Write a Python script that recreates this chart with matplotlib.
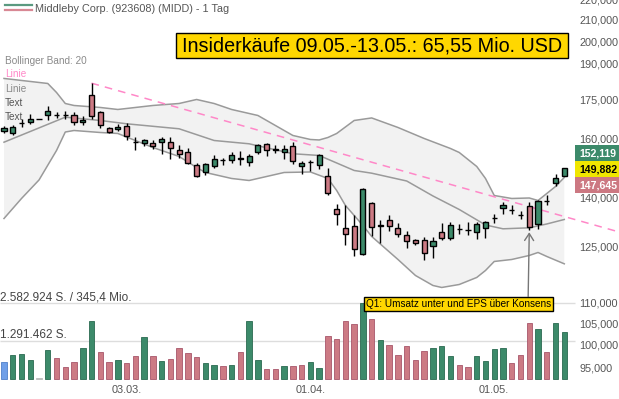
import matplotlib
matplotlib.use("Agg")
import matplotlib.pyplot as plt
from matplotlib.patches import Rectangle
import numpy as np

plt.rcParams['font.family'] = ['Liberation Sans', 'DejaVu Sans']

# daily candles Middleby (MIDD), 11.02. - 13.05., USD
opens = [163.17, 162.68, 166.20, 166.56, 167.86, 169.40, 169.50, 169.30, 169.13, 166.56,
         177.31, 170.40, 164.29, 163.92, 165.20, 159.20, 158.83, 158.65, 159.01, 159.01,
         156.39, 155.68, 151.12, 148.59, 150.64, 152.95, 152.85, 153.40, 152.02, 155.54,
         158.54, 156.50, 155.43, 157.82, 150.78, 152.10, 151.12, 147.14, 136.67, 130.87,
         131.48, 123.28, 138.56, 131.50, 133.29, 130.87, 128.81, 127.14, 127.34, 125.60,
         129.48, 127.81, 130.60, 130.30, 129.57, 130.81, 133.70, 136.98, 136.40, 134.90,
         137.40, 132.09, 139.10, 144.91, 147.24]
highs = [165.30, 165.31, 167.59, 169.79, 167.86, 172.64, 170.29, 170.68, 170.40, 168.85,
         182.07, 170.80, 164.67, 165.95, 166.18, 160.95, 160.36, 159.74, 160.95, 160.95,
         157.93, 157.10, 151.81, 151.81, 154.37, 153.56, 155.43, 155.79, 154.72, 158.29,
         158.76, 157.93, 157.93, 159.01, 152.26, 152.85, 154.72, 150.09, 138.24, 137.92,
         134.81, 143.26, 138.88, 133.08, 134.60, 132.38, 129.86, 127.43, 128.22, 128.10,
         132.38, 132.57, 132.09, 132.57, 132.57, 132.99, 135.12, 138.75, 137.92, 135.93,
         138.75, 139.29, 140.89, 148.05, 150.10]
lows = [162.42, 161.58, 164.56, 165.69, 167.86, 167.48, 168.09, 167.86, 165.31, 165.31,
        167.86, 164.44, 162.57, 163.17, 159.74, 156.39, 157.57, 156.50, 154.98, 153.21,
        153.42, 151.46, 146.81, 147.48, 150.09, 150.88, 151.81, 150.88, 150.64, 154.72,
        154.12, 155.33, 153.21, 151.46, 148.09, 148.93, 149.75, 141.11, 131.72, 125.84,
        122.58, 123.06, 128.31, 126.35, 129.86, 128.22, 125.03, 125.69, 121.51, 122.22,
        127.14, 127.14, 129.10, 128.81, 127.64, 127.78, 132.26, 135.12, 135.12, 133.59,
        130.07, 130.57, 137.71, 143.95, 147.14]
closes = [164.29, 164.56, 166.30, 167.86, 167.86, 170.95, 169.40, 169.25, 166.56, 167.48,
          169.01, 165.31, 162.80, 164.82, 161.47, 159.10, 159.74, 157.82, 160.36, 157.10,
          154.98, 151.81, 147.38, 151.23, 152.96, 152.85, 154.37, 153.30, 154.02, 157.93,
          156.39, 156.30, 156.50, 152.37, 151.57, 152.20, 154.37, 141.73, 135.12, 129.10,
          124.74, 143.06, 131.12, 131.60, 131.48, 129.10, 127.05, 126.47, 123.63, 126.85,
          127.81, 131.78, 130.50, 130.20, 132.09, 132.69, 133.80, 138.02, 136.30, 134.80,
          131.06, 139.07, 139.00, 146.57, 149.88]
volumes = [588000, 815700, 849700, 645700, 20000, 985600, 723900, 407800, 577800, 1063800,
           1961000, 917600, 577800, 645700, 543800, 781700, 1427400, 781700, 611700, 679700,
           1053600, 873400, 747700, 533600, 475800, 441800, 465600, 927800, 1961000, 635500,
           339900, 329700, 441800, 441800, 475800, 588000, 384000, 1471600, 1349200, 1971200,
           1869200, 2582924, 2028900, 1315300, 1165700, 815700, 1131700, 645700, 951600, 1043400,
           1111300, 791900, 475800, 407800, 771500, 611700, 1019600, 1053600, 533600, 825900,
           1893000, 1699300, 917600, 1903200, 1607500]

date_ticks = [14, 35, 56]
date_labels = ['03.03.', '01.04.', '01.05.']
price_ticks = [220, 210, 200, 190, 175, 160, 140, 125, 110, 105, 100, 95]

# Bollinger band (20) at selected days
bb_up_x = [0, 5, 6, 7, 8, 11, 13, 17, 20, 22, 24, 26, 27, 29, 32, 33, 35, 36, 37, 38,
           40, 42, 45, 48, 51, 52, 54, 55, 56, 58, 60, 61, 62, 63, 64]
bb_up = [184.05, 181.95, 178.24, 173.82, 173.03, 172.25, 171.46, 173.03, 173.82, 175.42,
         173.82, 171.46, 170.68, 169.13, 163.43, 161.58, 160.11, 159.93, 160.84, 162.32,
         167.21, 168.18, 164.56, 160.47, 156.85, 155.43, 150.54, 146.47, 140.89, 139.93,
         140.09, 139.29, 141.53, 143.82, 146.81]
bb_mid_x = [0, 3, 7, 11, 14, 20, 24, 28, 33, 36, 40, 42, 46, 49, 52, 55, 57, 60, 62, 64]
bb_mid = [159.12, 163.06, 168.47, 167.21, 165.95, 164.07, 159.74, 158.54, 154.98, 154.37,
          149.17, 148.25, 145.63, 140.73, 136.46, 131.72, 130.57, 130.87, 132.02, 133.38]
bb_low_x = [0, 2, 4, 6, 7, 8, 11, 13, 15, 17, 20, 22, 23, 26, 28, 32, 35, 37, 38, 39,
            41, 42, 45, 47, 49, 50, 52, 54, 55, 56, 58, 60, 61, 62, 64]
bb_low = [133.68, 139.93, 145.97, 156.14, 162.86, 163.43, 162.68, 162.32, 159.74, 157.21,
          154.02, 150.20, 148.49, 146.47, 145.80, 148.49, 148.66, 146.47, 142.51, 137.71,
          131.57, 128.31, 121.74, 117.37, 114.72, 114.20, 114.98, 116.84, 118.72, 121.19,
          121.74, 122.86, 123.70, 122.58, 120.54]

# downtrend line from the high of 21.02.
trend_x = [10, 70.3]
trend_y = [182.07, 129.6]

# price boxes on the right
box_values = [152.119, 149.882, 147.645]
box_colors = ['#3c8a6a', '#f0e600', '#cc7882']
box_text = ['white', 'black', 'white']

vol_max = 2582924
vol_turnover = '345,4 Mio.'

green = '#3c8a6a'
red = '#cc7a84'

W, H = 619, 399


def fx(px):
    return px / W


def fy(py):
    return 1 - py / H


def de(v):
    return f"{v:.3f}".replace('.', ',')


def thousands(v):
    return f"{v:,}".replace(',', '.')


x = np.arange(len(closes))
xlim = (-0.457, 70.25)

fig = plt.figure(figsize=(6.19, 3.99), dpi=100)

# volume panel (same frame, linear scale)
axv = fig.add_axes([0, 0, 1, 1])
axv.set_xlim(*xlim)
axv.set_ylim(-20 / 76 * vol_max, 379 / 76 * vol_max)
axv.axis('off')
axv.hlines([vol_max, vol_max / 2], xlim[0], 65.2, color='#dddddd', lw=1, zorder=0)

vcol, vedge = [], []
for i in range(len(closes)):
    if i == 0:
        vcol.append('#6f9fe8'); vedge.append('#5080c8')
    elif closes[i] == closes[i - 1]:
        vcol.append('#bbbbbb'); vedge.append('#bbbbbb')
    elif closes[i] > closes[i - 1]:
        vcol.append(green); vedge.append('#2a6a50')
    else:
        vcol.append(red); vedge.append('#a8566a')
axv.bar(x, volumes, width=0.62, color=vcol, edgecolor=vedge, linewidth=0.6, zorder=2)

axv.text(fx(0), fy(297), thousands(vol_max) + ' S. / ' + vol_turnover,
         transform=axv.transAxes, fontsize=8.5, color='#444444', va='center', ha='left')
axv.text(fx(0), fy(334.5), thousands(vol_max // 2) + ' S.',
         transform=axv.transAxes, fontsize=8.5, color='#444444', va='center', ha='left')

# price panel (log scale)
ax = fig.add_axes([0, 0, 1, 1])
ax.set_yscale('log')
ax.set_xlim(*xlim)
ax.set_ylim(88.53, 220.15)
ax.axis('off')

ax.fill(np.r_[bb_up_x, bb_low_x[::-1]], np.r_[bb_up, bb_low[::-1]],
        color='#f2f2f2', lw=0, zorder=1)
for bx, by in [(bb_up_x, bb_up), (bb_mid_x, bb_mid), (bb_low_x, bb_low)]:
    ax.plot(bx, by, color='#9a9a9a', lw=1.1, zorder=2)

ax.plot(trend_x, trend_y, color='#ff88c8', lw=1.1, ls=(0, (5, 4)), zorder=2.5)

o = np.array(opens); c = np.array(closes)
body_col = np.where(c > o, green, red)
ax.vlines(x, lows, highs, color='black', lw=1, zorder=3)
ax.bar(x, np.abs(c - o), bottom=np.minimum(o, c), width=0.58, color=body_col,
       edgecolor='black', linewidth=1, zorder=4)

# right axis labels
for v in price_ticks:
    ax.text(fx(579), v, de(v), transform=ax.get_yaxis_transform(), fontsize=7.8,
            color='#555555', va='center', ha='left')
for xt, lab in zip(date_ticks, date_labels):
    ax.text(xt, fy(390), lab, transform=ax.get_xaxis_transform(), fontsize=7.8,
            color='#555555', va='center', ha='center')

# last price boxes
for k, (val, bc, tc) in enumerate(zip(box_values, box_colors, box_text)):
    top = 145.5 + k * 16
    ax.add_patch(Rectangle((fx(575), fy(top + 15.5)), fx(619) - fx(575), 15.5 / H,
                           transform=ax.transAxes, fc=bc, ec='none', zorder=6))
    ax.text(fx(579), fy(top + 7.8), de(val), transform=ax.transAxes, fontsize=7.6,
            color=tc, fontweight='bold', va='center', ha='left', zorder=7)

# header and legend
ax.plot([fx(5), fx(32)], [fy(5), fy(5)], transform=ax.transAxes, color='#5a9a80', lw=1.6)
ax.plot([fx(5), fx(32)], [fy(10), fy(10)], transform=ax.transAxes, color='#d88894', lw=1.6)
ax.text(fx(35), fy(9), 'Middleby Corp. (923608) (MIDD) - 1 Tag', transform=ax.transAxes,
        fontsize=7.8, color='#555555', va='center', ha='left')

legend_rows = [('Bollinger Band: 20', '#8a8a8a', 60.8), ('Linie', '#ff88c8', 74.3),
               ('Linie', '#8a8a8a', 88.5), ('Text', '#555555', 102.5), ('Text', '#555555', 116.7)]
for t, col, yy in legend_rows:
    ax.text(fx(5), fy(yy), t, transform=ax.transAxes, fontsize=7.2, color=col,
            va='center', ha='left', zorder=8)

# insider box
ax.add_patch(Rectangle((fx(176), fy(57.5)), fx(568) - fx(176), 24.5 / H,
                       transform=ax.transAxes, fc='#ffd700', ec='black', lw=1, zorder=8))
ax.text(fx(372), fy(45.5), 'Insiderkäufe 09.05.-13.05.: 65,55 Mio. USD',
        transform=ax.transAxes, fontsize=14.2, color='black', va='center', ha='center', zorder=9)

# earnings note
ax.annotate('Q1: Umsatz unter und EPS über Konsens', xy=(60, lows[60] * 0.996),
            xycoords='data', xytext=(fx(458.7), fy(303.7)), textcoords='axes fraction',
            ha='center', va='center', fontsize=7.2, color='black', zorder=10,
            bbox=dict(boxstyle='square,pad=0.18', fc='#ffd700', ec='black', lw=1),
            arrowprops=dict(arrowstyle='->,head_length=0.7,head_width=0.45', color='#777777',
                            lw=1, relpos=(0.875, 1.0), shrinkA=0, shrinkB=0))

fig.savefig('out.png', dpi=100)
